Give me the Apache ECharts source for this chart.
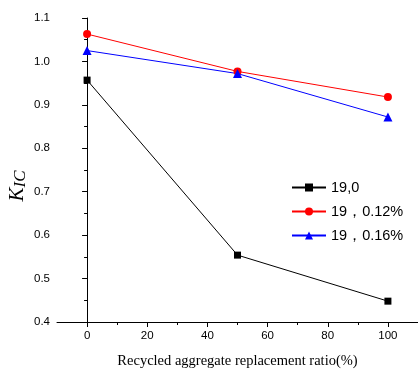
<!DOCTYPE html>
<html>
<head>
<meta charset="UTF-8">
<title></title>
<script src="https://cdn.jsdelivr.net/npm/echarts@6/dist/echarts.min.js"></script>
<style>
html, body { margin: 0; padding: 0; background: #fff; }
#main { width: 418px; height: 369px; }
</style>
</head>
<body>
<div id="main"></div>
<script>
var ratios = [0, 50, 100];
var kic_19_0 = [0.957, 0.554, 0.448];
var kic_19_012 = [1.063, 0.977, 0.918];
var kic_19_016 = [1.025, 0.972, 0.872];
var seriesNames = ['19,0', '19，0.12%', '19，0.16%'];
var xMajor = [0, 20, 40, 60, 80, 100];
var xMinor = [10, 30, 50, 70, 90];

function pairs(ys) {
	return ratios.map(function (x, i) { return [x, ys[i]]; });
}

var chart = echarts.init(document.getElementById('main'));
var labelFont = { color: '#000', fontFamily: 'Liberation Sans, Arial', fontSize: 11.5 };

chart.setOption({
	animation: false,
	grid: { left: 57, right: 0, top: 18, bottom: 47, outerBoundsMode: 'none', containLabel: false },
	legend: {
		orient: 'vertical',
		left: 286,
		top: 175,
		itemWidth: 34,
		itemHeight: 10,
		itemGap: 9,
		textStyle: { color: '#000', fontFamily: 'Liberation Sans, Arial', fontSize: 14.5 },
		data: seriesNames
	},
	xAxis: [{
		type: 'value',
		min: -10,
		max: 110,
		splitLine: { show: false },
		axisLine: { lineStyle: { color: '#000', width: 1 } },
		axisTick: { customValues: xMajor, length: 5, lineStyle: { color: '#000' } },
		axisLabel: Object.assign({ customValues: xMajor, margin: 8 }, labelFont),
		name: 'Recycled aggregate replacement ratio(%)',
		nameLocation: 'middle',
		nameGap: 32,
		nameTextStyle: { color: '#000', fontFamily: 'Liberation Serif, Times New Roman', fontSize: 14.5 }
	}, {
		type: 'value',
		position: 'bottom',
		min: -10,
		max: 110,
		splitLine: { show: false },
		axisLine: { show: false },
		axisTick: { customValues: xMinor, length: 3, lineStyle: { color: '#000' } },
		axisLabel: { show: false }
	}],
	yAxis: {
		type: 'value',
		min: 0.4,
		max: 1.1,
		interval: 0.1,
		splitLine: { show: false },
		axisLine: { show: true, lineStyle: { color: '#000', width: 1 } },
		axisTick: { show: true, length: 5, lineStyle: { color: '#000' } },
		minorTick: { show: true, splitNumber: 2, length: 3, lineStyle: { color: '#000' } },
		axisLabel: Object.assign({ margin: 7, formatter: function (v) { return v.toFixed(1); } }, labelFont),
		name: '{k|K}{s|IC}',
		nameLocation: 'middle',
		nameGap: 28,
		nameMoveOverlap: false,
		nameRotate: 90,
		nameTextStyle: {
			padding: [0, 32, 0, 0],
			rich: {
				k: { fontFamily: 'Liberation Serif, Times New Roman', fontStyle: 'italic', fontSize: 21, color: '#000' },
				s: { fontFamily: 'Liberation Serif, Times New Roman', fontStyle: 'italic', fontSize: 17, color: '#000', verticalAlign: 'bottom', padding: [6, 0, 0, 0] }
			}
		}
	},
	series: [{
		name: seriesNames[0],
		type: 'line',
		data: pairs(kic_19_0),
		symbol: 'rect',
		symbolSize: 7,
		itemStyle: { color: '#000' },
		lineStyle: { color: '#000', width: 1 }
	}, {
		name: seriesNames[1],
		type: 'line',
		data: pairs(kic_19_012),
		symbol: 'circle',
		symbolSize: 8,
		itemStyle: { color: '#ff0000' },
		lineStyle: { color: '#ff0000', width: 1 }
	}, {
		name: seriesNames[2],
		type: 'line',
		data: pairs(kic_19_016),
		symbol: 'triangle',
		symbolSize: 9,
		itemStyle: { color: '#0000ff' },
		lineStyle: { color: '#0000ff', width: 1 }
	}]
});
</script>
</body>
</html>
